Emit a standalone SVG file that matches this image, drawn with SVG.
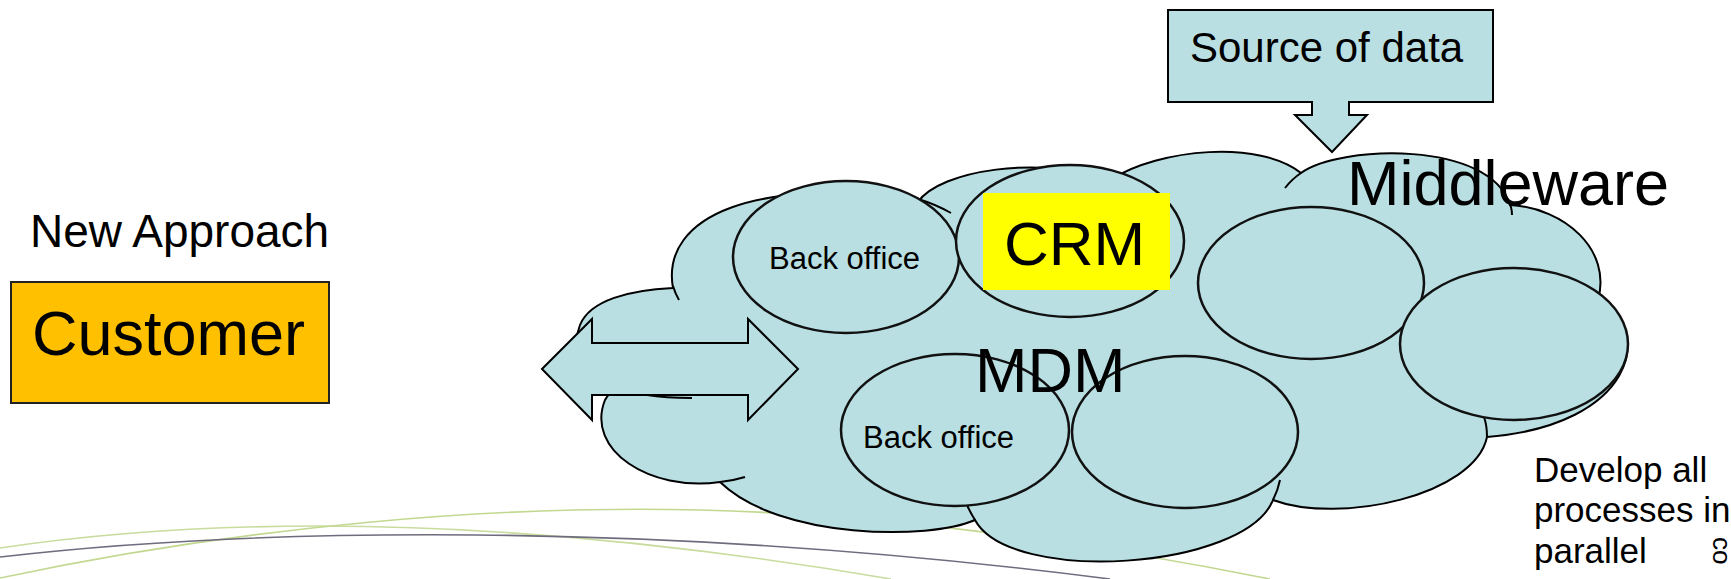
<svg xmlns="http://www.w3.org/2000/svg" width="1731" height="579" viewBox="0 0 1731 579">
  <style>
    .lbl { font-family: "Liberation Sans", Arial, sans-serif; fill: #000; }
    .shape { fill: #B9DFE3; stroke: #000; stroke-width: 2; stroke-linejoin: miter; }
    .sys { fill: #B9DFE3; stroke: #111; stroke-width: 2.5; }
    .stub { fill: none; stroke: #000; stroke-width: 2; }
    .swoosh { fill: none; stroke-width: 1.6; }
  </style>

  <rect width="1731" height="579" fill="#fff"/>

  <!-- decorative swooshes along the bottom edge -->
  <g id="swooshes">
    <path class="swoosh" stroke="#C9DC9E" d="M0,548 Q380,492 891,579"/>
    <path class="swoosh" stroke="#C2D890" d="M0,578 C250,525 500,505 700,510 C900,515 1100,545 1270,579"/>
    <path class="swoosh" stroke="#6E6C7E" stroke-width="2" d="M0,557 C250,528 650,520 1110,579"/>
  </g>

  <!-- left-hand legend -->
  <g id="new-approach">
    <text class="lbl" x="30" y="247" font-size="46">New Approach</text>
  </g>
  <g id="customer">
    <rect x="11" y="282" width="318" height="121" fill="#FFC000" stroke="#222" stroke-width="2"/>
    <text class="lbl" x="32" y="355" font-size="63">Customer</text>
  </g>

  <!-- the middleware cloud -->
  <g id="cloud">
    <path class="shape" d="M673,288
      C660,215 760,175 918,202
      C940,170 1040,155 1110,180
      C1160,148 1260,140 1301,173
      C1340,145 1490,140 1510,205
      C1565,208 1612,250 1598,300
      C1655,330 1635,425 1487,437
      C1475,495 1340,525 1273,500
      C1245,570 1010,585 975,520
      C930,540 780,540 720,482
      C650,492 585,450 605,400
      Q615,382 640,378
      C590,375 570,350 580,325
      C590,300 630,290 673,288 Z"/>
    <path class="stub" d="M673,286 Q675,293 679,300"/>
    <path class="stub" d="M918,199 Q935,204 951,213"/>
    <path class="stub" d="M1301,173 Q1292,179 1285,188"/>
    <path class="stub" d="M1508,200 Q1512,207 1512,215"/>
    <path class="stub" d="M1487,437 Q1487,425 1484,417"/>
    <path class="stub" d="M1273,500 Q1278,490 1280,480"/>
    <path class="stub" d="M975,520 Q970,512 967,505"/>
    <path class="stub" d="M720,482 Q732,481 745,477"/>
    <path class="stub" d="M647,395 Q665,398 692,398"/>
  </g>

  <!-- systems inside the cloud -->
  <g id="back-office-top">
    <ellipse class="sys" cx="846" cy="257" rx="113" ry="76"/>
    <text class="lbl" x="769" y="269" font-size="31">Back office</text>
  </g>
  <g id="crm">
    <ellipse class="sys" cx="1070" cy="241" rx="114" ry="76"/>
    <rect x="983" y="193" width="187" height="97" fill="#FFFF00"/>
    <text class="lbl" x="1004" y="265" font-size="62">CRM</text>
  </g>
  <g id="system-upper">
    <ellipse class="sys" cx="1311" cy="283" rx="113" ry="76"/>
  </g>
  <g id="system-right">
    <ellipse class="sys" cx="1514" cy="344" rx="114" ry="76"/>
  </g>
  <g id="back-office-bottom">
    <ellipse class="sys" cx="955" cy="430" rx="114" ry="76"/>
    <text class="lbl" x="863" y="448" font-size="31">Back office</text>
  </g>
  <g id="system-lower">
    <ellipse class="sys" cx="1185" cy="432" rx="113" ry="76"/>
  </g>

  <g id="mdm">
    <text class="lbl" x="975" y="392" font-size="63">MDM</text>
  </g>
  <g id="middleware">
    <text class="lbl" x="1347" y="205" font-size="63">Middleware</text>
  </g>

  <!-- data source feeding the cloud -->
  <g id="source-of-data">
    <path class="shape" d="M1168,10 H1493 V102 H1349 V115 H1367 L1332,152 L1295,115 H1312 V102 H1168 Z"/>
    <text class="lbl" x="1190" y="62" font-size="42">Source of data</text>
  </g>

  <!-- two-way exchange between customer and cloud -->
  <g id="connectors">
    <path class="shape" stroke-width="2.5" d="M542,369 L592,319 V343 H748 V319 L798,369 L748,420 V395 H592 V420 Z"/>
  </g>

  <g id="note">
    <text class="lbl" font-size="35">
      <tspan x="1534" y="482">Develop all</tspan>
      <tspan x="1534" y="522">processes in</tspan>
      <tspan x="1534" y="563">parallel</tspan>
    </text>
    <text class="lbl" font-size="26" transform="translate(1713,537) rotate(90)">co</text>
  </g>
</svg>
